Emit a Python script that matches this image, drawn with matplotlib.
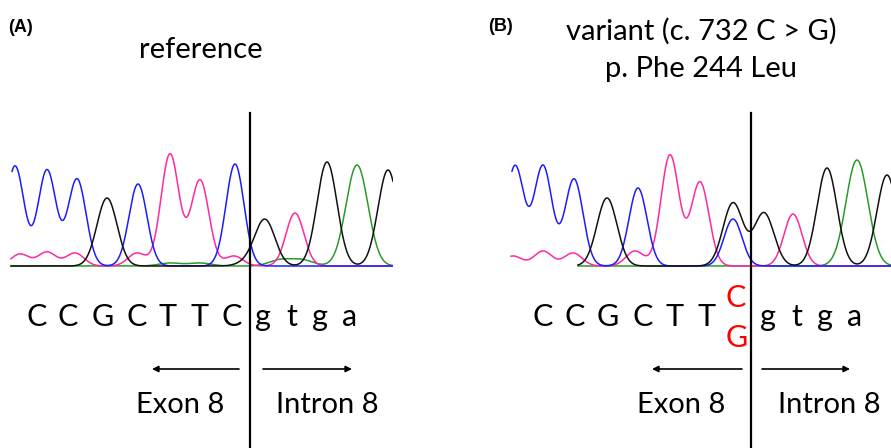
import numpy as np
import matplotlib
matplotlib.use("Agg")
import matplotlib.pyplot as plt

W, H = 891, 448
FONT = "Lato"

# called peaks per dye channel: (scan position, signal height)
A_BLUE = [(5, 100), (37, 96), (67, 87), (128, 82), (225, 102)]
A_BLACK = [(97, 68), (238, 4), (255, 46), (317, 104), (378, 96)]
A_PINK = [(10, 12), (37, 14), (65, 13), (127, 13), (160, 112), (190, 86),
          (224, 10), (285, 53)]
A_GREEN = [(160, 3), (190, 3), (270, 6), (292, 6), (347, 101)]

B_BLUE = [(5, 100), (33, 100), (64, 87), (128, 78), (223, 47)]
B_BLACK = [(97, 68), (223, 63), (254, 53), (317, 98), (377, 91)]
B_PINK = [(3, 10), (33, 15), (63, 13), (125, 15), (160, 111), (190, 84), (283, 52)]
B_GREEN = [(347, 106)]

SEQ_REF = ["C", "C", "G", "C", "T", "T", "C", "g", "t", "g", "a"]
SEQ_VAR = ["C", "C", "G", "C", "T", "T", "", "g", "t", "g", "a"]
HET_CALL = ["C", "G"]

COLORS = {"blue": "#1c1cff", "black": "#111111", "pink": "#ff2a9c", "green": "#2a9a2a"}
SIGMA = {"blue": 9.0, "black": 10.0, "pink": 9.0, "green": 11.0}


def trace(ax, peaks, color, x0, x1):
    x = np.linspace(x0, x1, 900)
    y = np.zeros_like(x)
    for c, h in peaks:
        y += h * np.exp(-(x - c) ** 2 / (2 * SIGMA[color] ** 2))
    ax.plot(x, y, color=COLORS[color], lw=1.1, solid_joinstyle="round")


fig = plt.figure(figsize=(W / 100, H / 100), dpi=100)

# chromatograms (pixel-sized axes, baseline at y=266)
for left, width, chans, starts in [
        (10, 383, [("green", A_GREEN), ("pink", A_PINK), ("blue", A_BLUE), ("black", A_BLACK)],
         {"green": 1, "pink": 1, "blue": 2, "black": 1}),
        (510, 381, [("green", B_GREEN), ("pink", B_PINK), ("blue", B_BLUE), ("black", B_BLACK)],
         {"green": 68, "pink": 1, "blue": 2, "black": 68})]:
    tax = fig.add_axes([left / W, (H - 268) / H, width / W, 130 / H])
    tax.set_xlim(0, width)
    tax.set_ylim(-2, 128)
    tax.axis("off")
    for name, pk in chans:
        trace(tax, pk, name, starts[name], width if left == 10 else 400)

# overlay in pixel coordinates for labels, boundary lines and arrows
ax = fig.add_axes([0, 0, 1, 1])
ax.set_xlim(0, W)
ax.set_ylim(H, 0)
ax.axis("off")

for xl in (250, 751):
    ax.plot([xl, xl], [113, H], color="black", lw=1.6)

ax.text(8, 32, "(A)", fontsize=13, fontweight="bold", family="Liberation Sans")
ax.text(488, 31, "(B)", fontsize=13, fontweight="bold", family="Liberation Sans")
ax.text(201, 58, "reference", fontsize=21, family=FONT, ha="center")
ax.text(701, 40, "variant (c. 732 C > G)", fontsize=21, family=FONT, ha="center")
ax.text(701, 77, "p. Phe 244 Leu", fontsize=21, family=FONT, ha="center")

# base calls
xa = [37, 68, 103, 137, 168, 200, 232, 263, 292, 320, 350]
xb = [543, 575, 608, 643, 675, 707, 736, 768, 797, 825, 855]
for x, s in zip(xa, SEQ_REF):
    ax.text(x, 326, s, fontsize=22, family=FONT, ha="center")
for x, s in zip(xb, SEQ_VAR):
    ax.text(x, 326, s, fontsize=22, family=FONT, ha="center")
ax.text(736, 307, HET_CALL[0], fontsize=22, family=FONT, ha="center", color="#ff0000")
ax.text(737, 347, HET_CALL[1], fontsize=22, family=FONT, ha="center", color="#ff0000")

arrow = dict(arrowstyle="-|>", color="black", lw=1.2, mutation_scale=9, shrinkA=0, shrinkB=0)
for xs, xe in [(239, 152), (263, 352), (742, 652), (762, 850)]:
    ax.annotate("", xy=(xe, 369), xytext=(xs, 369), arrowprops=arrow)

ax.text(180, 413, "Exon 8", fontsize=21, family=FONT, ha="center")
ax.text(327, 413, "Intron 8", fontsize=21, family=FONT, ha="center")
ax.text(681, 413, "Exon 8", fontsize=21, family=FONT, ha="center")
ax.text(829, 413, "Intron 8", fontsize=21, family=FONT, ha="center")

fig.savefig("out.png", dpi=100)
